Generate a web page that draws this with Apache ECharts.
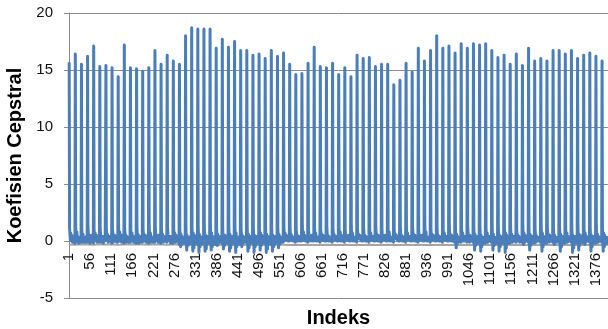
<!DOCTYPE html>
<html>
<head>
<meta charset="utf-8">
<title>Koefisien Cepstral</title>
<script src="https://cdn.jsdelivr.net/npm/echarts@6/dist/echarts.min.js"></script>
<style>
  html, body { margin: 0; padding: 0; background: #fff; }
  #chart { width: 608px; height: 329px; }
</style>
</head>
<body>
<div id="chart"></div>
<script>
// First coefficient (c0) of each of the 88 frames
const frameC0 = [
  15.6,16.4,15.5,16.2,17.1,15.3,15.4,15.2,14.4,17.2,15.2,15.1,14.9,15.2,16.7,15.5,16.3,15.8,15.5,18.0,18.7,18.6,
  18.6,18.6,16.9,17.7,17.0,17.5,16.7,16.7,16.3,16.4,16.0,16.7,16.2,16.5,15.5,14.6,14.7,15.6,17.0,15.3,
  15.2,15.6,14.6,15.2,14.4,16.3,16.0,16.1,15.3,15.5,
  15.5,13.7,14.1,15.6,14.8,16.9,15.8,16.7,18.0,16.9,17.1,16.5,17.3,16.9,17.3,17.2,17.3,16.7,16.1,16.3,
  15.5,16.4,15.4,16.9,15.8,16.0,15.8,16.7,16.7,16.4,16.7,16.0,16.3,16.5,16.2,15.8
];

// Remaining coefficients c1..c15 of each frame
const frameRest = [
  [1.1,0.6,0.1,0.7,0.3,0.0,0.5,0.2,-0.1,0.4,0.3,0.0,0.4,0.1,-0.2],
  [1.2,0.5,0.2,0.8,0.2,-0.1,0.4,0.3,-0.2,0.3,0.4,0.0,0.3,0.2,-0.1],
  [1.0,0.4,-0.1,0.6,0.4,0.1,0.3,0.4,-0.1,0.2,0.3,-0.1,0.4,0.2,-0.1],
  [1.3,0.7,0.0,0.5,0.3,-0.2,0.4,0.2,0.0,0.5,0.2,-0.1,0.3,0.3,-0.2],
  [0.9,0.5,0.2,0.7,0.0,0.1,0.5,0.3,-0.1,0.3,0.4,0.0,0.2,0.4,-0.1],
  [1.1,0.6,0.0,0.4,0.4,-0.1,0.2,0.4,-0.2,0.3,0.3,0.0,0.4,0.1,0.0],
  [1.2,0.4,0.1,0.6,0.2,-0.1,0.4,0.3,0.0,0.4,0.1,0.1,0.3,0.3,-0.2],
  [1.0,0.7,-0.1,0.5,0.3,0.1,0.5,0.0,0.0,0.4,0.3,-0.1,0.3,0.2,-0.1],
  [1.4,0.5,0.0,0.8,0.3,0.0,0.3,0.2,-0.1,0.5,0.2,0.0,0.4,0.3,-0.2],
  [1.1,0.6,0.2,0.5,0.1,-0.1,0.4,0.3,0.0,0.3,0.4,-0.1,0.2,0.3,-0.1],
  [0.9,0.4,0.0,0.7,0.4,0.0,0.2,0.4,-0.1,0.3,0.2,0.0,0.4,0.2,-0.2],
  [1.2,0.5,0.1,0.6,0.2,-0.2,0.4,0.3,0.0,0.4,0.3,-0.1,0.3,0.3,-0.1],
  [1.0,0.6,0.0,0.4,0.3,0.0,0.5,0.2,-0.1,0.3,0.4,0.0,0.2,0.4,-0.2],
  [1.3,0.4,-0.1,0.7,0.4,-0.1,0.3,0.3,0.0,0.2,0.3,-0.1,0.4,0.2,-0.1],
  [1.1,0.7,0.1,0.5,0.2,0.0,0.4,0.1,-0.1,0.5,0.3,0.1,0.3,0.3,-0.2],
  [1.0,0.5,0.0,0.6,0.3,-0.1,0.2,0.4,0.0,0.3,0.2,0.0,0.4,0.2,-0.1],
  [1.2,0.6,0.2,0.4,0.4,0.0,0.4,0.2,-0.2,0.4,0.3,-0.1,0.3,0.3,-0.2],
  [1.1,0.4,0.0,0.7,0.1,-0.1,0.5,0.3,0.0,0.3,0.4,0.0,0.2,0.3,-0.3],
  [1.0,0.5,-0.5,0.6,0.3,-0.3,0.4,0.2,-0.2,0.3,0.3,-0.1,0.3,0.2,-0.2],
  [1.3,-0.1,-0.8,0.5,0.2,-0.4,0.3,0.4,-0.3,0.2,0.3,-0.2,0.4,0.1,-0.2],
  [1.1,0.3,-0.9,0.7,0.0,-0.6,0.5,0.2,-0.2,0.4,0.1,-0.1,0.3,0.3,-0.3],
  [1.4,0.2,-1.0,0.6,0.3,-0.5,0.4,0.1,-0.3,0.3,0.4,-0.1,0.2,0.3,-0.2],
  [1.2,0.0,-0.9,0.5,0.2,-0.7,0.3,0.3,-0.2,0.4,0.2,-0.2,0.3,0.2,-0.2],
  [1.3,0.3,-0.8,0.7,0.1,-0.5,0.4,0.2,-0.3,0.3,0.3,-0.1,0.4,0.1,-0.3],
  [1.1,0.5,-0.4,0.6,0.3,-0.2,0.3,0.3,-0.1,0.2,0.4,0.0,0.3,0.2,-0.2],
  [1.2,0.1,-0.7,0.5,0.4,-0.4,0.5,0.1,-0.2,0.3,0.2,-0.1,0.3,0.3,-0.2],
  [1.4,0.2,-0.9,0.6,0.2,-0.6,0.4,0.2,-0.3,0.4,0.3,-0.2,0.2,0.3,-0.2],
  [1.2,0.3,-1.0,0.7,0.1,-0.5,0.3,0.3,-0.3,0.3,0.2,-0.1,0.4,0.2,-0.3],
  [1.1,0.5,-0.5,0.5,0.3,-0.2,0.4,0.2,-0.1,0.3,0.3,-0.1,0.3,0.2,-0.1],
  [1.3,0.0,-0.9,0.6,0.2,-0.6,0.4,0.3,-0.2,0.2,0.4,-0.1,0.3,0.1,-0.2],
  [1.2,0.2,-1.0,0.5,0.3,-0.5,0.3,0.2,-0.3,0.4,0.2,-0.2,0.3,0.3,-0.2],
  [1.0,0.3,-0.8,0.7,0.1,-0.4,0.5,0.2,-0.2,0.3,0.3,-0.1,0.2,0.3,-0.2],
  [1.3,0.1,-1.0,0.6,0.2,-0.7,0.4,0.1,-0.2,0.3,0.3,-0.1,0.4,0.2,-0.3],
  [1.1,0.2,-0.9,0.5,0.3,-0.5,0.3,0.3,-0.3,0.2,0.4,-0.1,0.3,0.2,-0.2],
  [1.2,0.3,-0.6,0.6,0.2,-0.3,0.4,0.2,-0.1,0.3,0.2,-0.1,0.3,0.3,-0.1],
  [1.1,0.6,0.2,0.7,0.4,0.1,0.5,0.3,0.1,0.4,0.3,0.0,0.4,0.3,0.0],
  [1.2,0.5,0.1,0.6,0.3,0.1,0.4,0.4,0.0,0.3,0.4,0.1,0.3,0.3,-0.1],
  [1.0,0.7,0.2,0.5,0.5,0.0,0.3,0.4,0.1,0.4,0.2,0.0,0.4,0.2,0.0],
  [1.3,0.5,0.1,0.8,0.3,0.1,0.5,0.2,0.0,0.3,0.4,0.1,0.3,0.3,-0.1],
  [1.1,0.6,0.3,0.5,0.2,0.0,0.4,0.3,0.1,0.5,0.3,0.0,0.2,0.4,0.0],
  [1.2,0.4,0.2,0.7,0.4,0.0,0.3,0.4,0.0,0.3,0.2,0.1,0.4,0.3,-0.1],
  [1.0,0.6,0.1,0.6,0.3,0.1,0.5,0.3,0.1,0.4,0.3,0.0,0.3,0.2,0.0],
  [1.4,0.5,0.2,0.5,0.4,0.0,0.4,0.2,0.0,0.3,0.4,0.1,0.3,0.3,-0.1],
  [1.1,0.7,0.1,0.6,0.2,0.1,0.3,0.4,0.1,0.4,0.2,0.0,0.4,0.3,0.0],
  [1.2,0.5,0.2,0.8,0.3,0.0,0.5,0.3,0.0,0.3,0.3,0.1,0.2,0.4,-0.1],
  [1.0,0.6,0.3,0.5,0.4,0.1,0.4,0.2,0.1,0.5,0.3,0.0,0.3,0.2,0.0],
  [1.3,0.4,0.1,0.7,0.3,0.0,0.3,0.4,0.0,0.3,0.4,0.1,0.4,0.3,-0.1],
  [1.1,0.5,0.2,0.6,0.2,0.1,0.5,0.3,0.1,0.4,0.2,0.0,0.3,0.3,0.0],
  [1.2,0.6,0.1,0.5,0.4,0.0,0.4,0.2,0.0,0.3,0.3,0.1,0.2,0.4,-0.1],
  [1.0,0.5,0.2,0.7,0.3,0.1,0.3,0.4,0.1,0.4,0.3,0.0,0.4,0.2,0.0],
  [1.3,0.7,0.2,0.6,0.2,0.0,0.5,0.3,0.0,0.3,0.2,0.1,0.3,0.3,-0.1],
  [1.1,0.4,0.1,0.5,0.4,0.1,0.4,0.2,0.1,0.5,0.3,0.0,0.3,0.3,0.0],
  [1.2,0.6,0.2,0.8,0.3,0.0,0.3,0.4,0.0,0.3,0.4,0.1,0.4,0.2,-0.1],
  [1.0,0.5,0.3,0.6,0.2,0.1,0.5,0.3,0.1,0.4,0.2,0.0,0.3,0.3,0.0],
  [1.4,0.6,0.1,0.5,0.4,0.0,0.4,0.2,0.0,0.3,0.3,0.1,0.2,0.4,-0.1],
  [1.1,0.4,0.2,0.7,0.3,0.1,0.3,0.4,0.1,0.4,0.3,0.0,0.4,0.2,0.0],
  [1.2,0.7,0.1,0.6,0.2,0.0,0.5,0.3,0.0,0.3,0.2,0.1,0.3,0.3,-0.1],
  [1.0,0.5,0.2,0.5,0.4,0.1,0.4,0.2,0.1,0.5,0.3,0.0,0.3,0.3,0.0],
  [1.3,0.6,0.2,0.8,0.3,0.0,0.3,0.4,0.0,0.3,0.4,0.1,0.4,0.2,-0.1],
  [1.1,0.4,0.1,0.6,0.2,0.1,0.5,0.3,0.1,0.4,0.2,0.0,0.3,0.3,0.0],
  [1.2,0.5,0.2,0.5,0.4,0.0,0.4,0.2,0.0,0.3,0.3,0.1,0.2,0.4,-0.1],
  [1.0,0.6,0.3,0.7,0.3,0.1,0.3,0.4,0.1,0.4,0.3,0.0,0.4,0.2,0.0],
  [1.3,0.5,0.1,0.6,0.2,0.0,0.5,0.3,0.0,0.3,0.2,0.1,0.3,0.3,-0.1],
  [1.2,0.3,-0.6,0.6,0.3,-0.2,0.4,0.2,-0.1,0.3,0.3,0.0,0.3,0.2,-0.1],
  [1.1,0.5,0.0,0.7,0.2,0.0,0.3,0.4,0.0,0.4,0.2,0.0,0.4,0.3,-0.1],
  [1.3,0.6,0.1,0.5,0.4,-0.1,0.5,0.2,0.0,0.3,0.3,0.1,0.3,0.2,-0.1],
  [1.2,0.2,-0.8,0.6,0.2,-0.4,0.4,0.3,-0.2,0.2,0.4,-0.1,0.3,0.3,-0.2],
  [1.4,0.3,-0.9,0.5,0.3,-0.5,0.3,0.2,-0.2,0.3,0.3,-0.1,0.2,0.3,-0.2],
  [1.1,0.5,-0.1,0.7,0.3,-0.1,0.4,0.3,0.0,0.4,0.2,0.0,0.3,0.2,-0.1],
  [1.2,0.1,-0.8,0.6,0.2,-0.4,0.3,0.3,-0.2,0.3,0.4,-0.1,0.3,0.2,-0.2],
  [1.3,0.3,-0.9,0.5,0.4,-0.5,0.4,0.2,-0.2,0.2,0.3,-0.1,0.4,0.3,-0.2],
  [1.1,0.4,-1.0,0.7,0.2,-0.6,0.5,0.2,-0.2,0.3,0.2,-0.1,0.3,0.2,-0.2],
  [1.2,0.5,-0.1,0.6,0.3,-0.1,0.3,0.4,0.0,0.4,0.3,0.0,0.2,0.3,-0.1],
  [1.0,0.6,0.0,0.5,0.4,0.0,0.4,0.2,-0.1,0.3,0.3,0.1,0.3,0.3,-0.1],
  [1.3,0.4,-0.3,0.7,0.2,-0.1,0.5,0.3,0.0,0.3,0.2,0.0,0.4,0.2,-0.1],
  [1.2,0.2,-0.8,0.6,0.3,-0.4,0.4,0.2,-0.2,0.4,0.3,-0.1,0.3,0.3,-0.2],
  [1.1,0.5,-0.1,0.5,0.4,0.0,0.3,0.3,0.0,0.3,0.4,0.0,0.2,0.3,-0.1],
  [1.4,0.3,-0.9,0.7,0.2,-0.5,0.4,0.2,-0.2,0.3,0.3,-0.1,0.4,0.2,-0.2],
  [1.2,0.6,0.0,0.6,0.3,-0.1,0.5,0.3,0.0,0.4,0.2,0.0,0.3,0.3,-0.1],
  [1.0,0.5,-0.3,0.5,0.3,-0.1,0.3,0.4,-0.1,0.3,0.3,0.0,0.3,0.2,-0.1],
  [1.3,0.2,-0.9,0.6,0.2,-0.5,0.4,0.2,-0.2,0.2,0.4,-0.1,0.3,0.3,-0.2],
  [1.1,0.5,-0.1,0.7,0.4,-0.1,0.4,0.3,0.0,0.3,0.2,0.0,0.4,0.2,-0.1],
  [1.2,0.3,-1.0,0.5,0.3,-0.6,0.3,0.3,-0.2,0.4,0.3,-0.1,0.2,0.3,-0.2],
  [1.4,0.1,-0.8,0.6,0.2,-0.4,0.5,0.2,-0.1,0.3,0.3,-0.1,0.3,0.2,-0.2],
  [1.1,0.4,-0.3,0.7,0.3,-0.1,0.4,0.3,0.0,0.3,0.2,0.0,0.4,0.3,-0.1],
  [1.2,0.3,-0.9,0.5,0.4,-0.5,0.3,0.2,-0.2,0.4,0.3,-0.1,0.3,0.2,-0.2],
  [1.3,0.5,-0.1,0.6,0.2,-0.1,0.4,0.3,0.0,0.3,0.4,0.0,0.2,0.3,-0.1],
  [1.1,0.2,-0.9,0.7,0.3,-0.5,0.5,0.2,-0.2,0.3,0.2,-0.1,0.3,0.3,-0.2]
];

// Second (gray) series level, one value per frame start plus the end point
const grayLevel = [
  -0.30,-0.32,-0.28,-0.30,-0.33,-0.29,-0.31,-0.30,-0.34,-0.30,-0.28,-0.31,-0.30,-0.32,-0.29,-0.30,
  -0.33,-0.30,-0.31,-0.35,-0.33,-0.36,-0.34,-0.32,-0.35,-0.33,-0.36,-0.34,-0.33,-0.35,-0.32,-0.34,
  -0.33,-0.35,-0.32,-0.33,-0.34,-0.32,-0.35,-0.33,-0.34,-0.36,-0.33,-0.35,-0.34,-0.33,-0.36,-0.34,
  -0.35,-0.33,-0.34,-0.36,-0.33,-0.35,-0.34,-0.32,-0.35,-0.33,-0.34,-0.36,-0.34,-0.33,-0.35,-0.34,
  -0.33,-0.35,-0.34,-0.32,-0.34,-0.35,-0.33,-0.34,-0.36,-0.33,-0.35,-0.34,-0.33,-0.35,-0.34,-0.36,
  -0.33,-0.35,-0.34,-0.33,-0.35,-0.34,-0.33,-0.35,-0.34
];

const COEFS = 16;
const N = frameC0.length * COEFS;
const Y_MIN = -5, Y_MAX = 20, Y_STEP = 5;

// Index labels 1..N along the horizontal axis
const indexLabels = [];
for (let i = 1; i <= N; i++) indexLabels.push(String(i));

// Flatten frames into one coefficient sequence
const cepstral = [];
frameC0.forEach((c0, f) => {
  cepstral.push(c0);
  frameRest[f].forEach(v => cepstral.push(v));
});

const grayData = grayLevel.map((v, k) => [Math.min(k * COEFS, N - 1), v]);

const axisGray = '#8c8c8c';
const chart = echarts.init(document.getElementById('chart'), null, { renderer: 'canvas' });
chart.setOption({
  animation: false,
  backgroundColor: '#ffffff',
  grid: { left: 69, right: 0, top: 13, bottom: 31, containLabel: false, outerBoundsMode: 'none' },
  xAxis: {
    type: 'category',
    data: indexLabels,
    boundaryGap: true,
    position: 'bottom',
    offset: 0,
    name: 'Indeks',
    nameLocation: 'middle',
    nameGap: 67,
    nameTextStyle: { fontFamily: 'Liberation Sans', fontWeight: 'bold', fontSize: 20, color: '#000' },
    axisLine: { onZero: false, lineStyle: { color: axisGray, width: 1 } },
    axisTick: { show: false },
    axisLabel: {
      interval: 54,
      rotate: 90,
      margin: 12,
      fontFamily: 'Liberation Sans',
      fontSize: 15,
      color: '#111'
    },
    splitLine: { show: false }
  },
  yAxis: {
    type: 'value',
    min: Y_MIN,
    max: Y_MAX,
    interval: Y_STEP,
    name: 'Koefisien Cepstral',
    nameLocation: 'middle',
    nameGap: 42,
    nameRotate: 90,
    nameTextStyle: { fontFamily: 'Liberation Sans', fontWeight: 'bold', fontSize: 20, color: '#000' },
    axisLine: { show: true, lineStyle: { color: axisGray, width: 1 } },
    axisTick: { show: true, length: 5, inside: false, lineStyle: { color: axisGray } },
    axisLabel: { margin: 16, fontFamily: 'Liberation Sans', fontSize: 15, color: '#111' },
    splitLine: { show: true, lineStyle: { color: axisGray, width: 1 } }
  },
  series: [
    {
      type: 'line',
      data: grayData,
      symbol: 'none',
      silent: true,
      lineStyle: { color: '#a5a5a5', width: 2 },
      z: 2
    },
    {
      type: 'line',
      data: cepstral,
      symbol: 'none',
      silent: true,
      lineStyle: { color: '#4a7ebb', width: 3, join: 'round', cap: 'round' },
      z: 3
    }
  ]
});

// Lift the category axis (line, labels, name) up to the y = 0 level
const yZero = chart.convertToPixel({ yAxisIndex: 0 }, 0);
const yBottom = chart.convertToPixel({ yAxisIndex: 0 }, Y_MIN);
chart.setOption({ xAxis: { offset: yZero - yBottom } });
</script>
</body>
</html>
